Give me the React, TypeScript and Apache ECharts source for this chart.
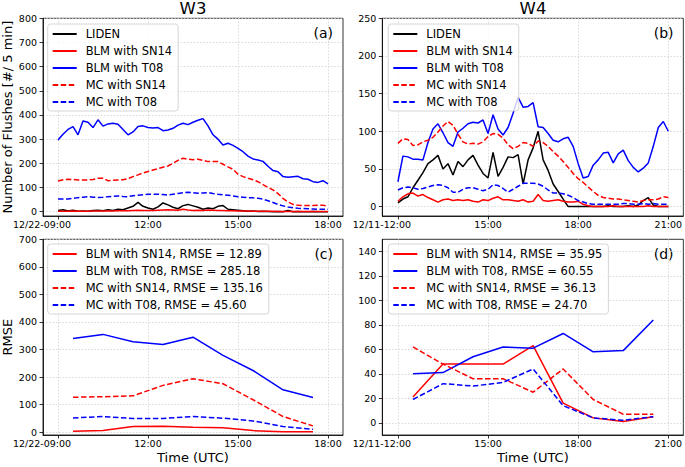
import React, { useEffect, useRef } from "react";
import * as echarts from "echarts";

const FONT = "DejaVu Sans";

// ---------- time sampling ----------
const W3_START = 9; // 12/22 09:00 (hours)
const W4_START = 12; // 12/11 12:00 (hours)
const STEP = 10 / 60; // 10-minute samples

// ---------- panel (a): W3 flash counts ----------
const w3Liden = [5,8,3,6,2,3,2,5,6,4,8,5,10,8,15,22,38,22,15,10,20,36,28,18,12,25,30,24,18,10,15,12,22,25,10,8,6,4,2,3,1,2,1,0,1,0,5,0,1,0,0,1,0,0,0];
const w3BlmSN14 = [2,2,2,3,2,2,2,3,3,3,3,3,4,4,4,5,6,5,5,5,6,7,8,7,6,10,7,5,6,5,7,6,5,5,4,4,3,3,3,2,2,2,2,2,1,1,1,1,1,1,1,1,1,1,1];
const w3BlmT08 = [296,320,340,352,318,375,370,348,380,354,363,366,362,340,318,330,352,355,348,346,348,335,338,345,358,366,360,370,378,385,355,318,300,276,283,274,262,248,230,218,214,208,188,170,165,145,142,144,146,136,134,124,121,128,115];
const w3McSN14 = [127,132,134,133,131,131,131,133,138,138,128,130,131,132,137,145,152,160,166,172,178,184,189,200,212,221,217,215,217,212,207,207,207,196,185,175,155,145,138,132,124,112,100,90,75,55,40,30,26,25,25,25,27,26,24];
const w3McT08 = [52,52,52,55,58,60,62,60,59,60,62,63,65,63,62,66,68,70,72,72,72,71,69,72,75,78,80,78,76,77,79,75,72,70,68,65,62,60,58,57,55,52,45,38,30,24,19,16,14,13,12,11,10,10,10];

// ---------- panel (b): W4 flash counts ----------
const w4Liden = [5,10,13,25,35,45,57,62,68,50,57,42,60,53,62,68,55,44,38,72,40,52,66,65,69,30,62,78,100,62,48,30,20,10,0,0,0,0,0,0,0,0,1,0,0,0,1,0,2,8,12,2,0,0,0];
const w4BlmSN14 = [7,13,17,18,14,16,12,9,6,9,10,8,9,8,9,7,6,9,8,11,13,9,9,8,7,9,6,7,16,8,7,8,9,7,6,6,7,3,1,0,0,0,0,1,0,0,0,0,0,0,1,0,0,0,0];
const w4BlmT08 = [33,67,66,63,63,62,85,103,110,98,85,80,99,104,110,112,111,115,97,122,103,95,105,124,145,132,133,138,106,105,97,88,86,90,92,80,57,38,40,55,62,71,72,58,70,75,61,52,46,51,58,80,105,113,100];
const w4McSN14 = [84,90,89,81,82,86,88,92,99,107,113,108,96,86,83,84,83,86,93,97,96,91,82,77,80,85,84,80,87,85,80,73,67,60,52,44,37,32,26,20,15,12,11,10,10,9,8,7,6,8,9,9,10,13,12];
const w4McT08 = [22,25,26,25,23,24,26,28,29,28,25,19,19,23,25,25,23,21,23,29,28,24,19,23,27,31,31,31,30,27,22,18,18,17,15,12,8,6,4,3,3,3,3,3,3,4,4,3,3,4,3,4,3,3,3];

// ---------- panels (c), (d): hourly RMSE ----------
const w3RmseHours = [9.5,10.5,11.5,12.5,13.5,14.5,15.5,16.5,17.5];
const w4RmseHours = [12.5,13.5,14.5,15.5,16.5,17.5,18.5,19.5,20.5];
const cBlmSN14 = [4,6,21,22,18,16,6,2,2];
const cBlmT08 = [340,355,328,318,345,279,224,154,126];
const cMcSN14 = [127,129,132,170,194,176,118,57,23];
const cMcT08 = [52,57,50,50,57,51,41,21,11];
const dBlmSN14 = [21,48,48,48,63,16,4,1,5];
const dBlmT08 = [40,41,54,62,61,73,58,59,84];
const dMcSN14 = [62,48,36,36,25,44,19,7,7];
const dMcT08 = [19,32,30,33,44,14,4,2,5];

const cNames = ["BLM with SN14, RMSE = 12.89","BLM with T08, RMSE = 285.18","MC with SN14, RMSE = 135.16","MC with T08, RMSE = 45.60"];
const dNames = ["BLM with SN14, RMSE = 35.95","BLM with T08, RMSE = 60.55","MC with SN14, RMSE = 36.13","MC with T08, RMSE = 24.70"];
const topNames = ["LIDEN","BLM with SN14","BLM with T08","MC with SN14","MC with T08"];

// ---------- ticks ----------
const w3XTicks = [9,12,15,18];
const w3XLabels = ["12/22-09:00","12:00","15:00","18:00"];
const w4XTicks = [12,15,18,21];
const w4XLabels = ["12/11-12:00","15:00","18:00","21:00"];
const aYTicks = [0,100,200,300,400,500,600,700,800];
const bYTicks = [0,50,100,150,200,250];
const cYTicks = [0,100,200,300,400,500,600,700];
const dYTicks = [0,20,40,60,80,100,120,140];

const regular = (start: number, vals: number[]) => vals.map((v, i) => [start + i * STEP, v]);
const paired = (xs: number[], vals: number[]) => vals.map((v, i) => [xs[i], v]);

const DASH = [5.5, 2.5];
const styleOf = (kind: string) => {
  switch (kind) {
    case "LIDEN": return { color: "#000000", type: "solid" };
    case "BLM_SN14": return { color: "#ff0000", type: "solid" };
    case "BLM_T08": return { color: "#0000ff", type: "solid" };
    case "MC_SN14": return { color: "#ff0000", type: DASH };
    default: return { color: "#0000ff", type: DASH };
  }
};

function line(name: string, kind: string, idx: number, data: number[][]) {
  const s = styleOf(kind);
  return {
    type: "line",
    name,
    xAxisIndex: idx,
    yAxisIndex: idx,
    data,
    symbol: "none",
    showSymbol: false,
    color: s.color,
    lineStyle: { color: s.color, width: 1.5, type: s.type as any },
    itemStyle: { color: s.color },
    silent: true,
  };
}

const tickLabelStyle = { fontSize: 9.5, color: "#000", fontFamily: FONT };
const gridLine = { show: true, lineStyle: { color: "#d3d3d3", type: [1.6, 1.6], width: 0.8 } };
const axisLineStyle = { show: true, onZero: false, lineStyle: { color: "#000", width: 0.8 } };

function xAxis(gridIndex: number, min: number, max: number, ticks: number[], labels: string[], extra: any = {}) {
  return {
    type: "value",
    gridIndex,
    min,
    max,
    axisLine: axisLineStyle,
    axisTick: { show: true, length: 3.5, customValues: ticks, lineStyle: { color: "#000", width: 0.8 } },
    axisLabel: {
      ...tickLabelStyle,
      customValues: ticks,
      margin: 3,
      formatter: (v: number) => {
        const i = ticks.indexOf(v);
        if (i < 0) return "";
        return i === 0 ? `{f|${labels[i]}}` : labels[i];
      },
      rich: { f: { ...tickLabelStyle, padding: [0, 32, 0, 0] } },
    },
    splitLine: gridLine,
    ...extra,
  };
}

function yAxis(gridIndex: number, min: number, max: number, ticks: number[], extra: any = {}) {
  return {
    type: "value",
    gridIndex,
    min,
    max,
    axisLine: axisLineStyle,
    axisTick: { show: true, length: 3.5, customValues: ticks, lineStyle: { color: "#000", width: 0.8 } },
    axisLabel: { ...tickLabelStyle, customValues: ticks, margin: 6 },
    splitLine: gridLine,
    ...extra,
  };
}

const legendBase = {
  orient: "vertical",
  itemWidth: 24,
  itemHeight: 10,
  itemGap: 5,
  padding: [4, 6, 3, 4],
  backgroundColor: "rgba(255,255,255,0.8)",
  borderColor: "#cccccc",
  borderWidth: 0.8,
  borderRadius: 3,
  selectedMode: false,
  itemStyle: { opacity: 0 },
  textStyle: { fontSize: 11.5, fontFamily: FONT, color: "#000", padding: [0, 0, 0, 4] },
};

const axisNameStyle = { fontSize: 13, fontFamily: FONT, color: "#000" };

function buildOption() {
  return {
    animation: false,
    backgroundColor: "#ffffff",
    textStyle: { fontFamily: FONT },
    grid: [
      { left: 42, top: 18.3, width: 301, height: 197.7, show: true, borderColor: "#000", borderWidth: 0.8, backgroundColor: "transparent" },
      { left: 382.3, top: 18.3, width: 301.2, height: 197.7, show: true, borderColor: "#000", borderWidth: 0.8, backgroundColor: "transparent" },
      { left: 42, top: 239.3, width: 301, height: 195.7, show: true, borderColor: "#000", borderWidth: 0.8, backgroundColor: "transparent" },
      { left: 382.3, top: 239.3, width: 301.2, height: 195.7, show: true, borderColor: "#000", borderWidth: 0.8, backgroundColor: "transparent" },
    ],
    xAxis: [
      xAxis(0, 8.5, 18.5, w3XTicks, w3XLabels),
      xAxis(1, 11.48, 21.5, w4XTicks, w4XLabels),
      xAxis(2, 8.5, 18.5, w3XTicks, w3XLabels, { name: "Time (UTC)", nameLocation: "middle", nameGap: 16, nameTextStyle: axisNameStyle }),
      xAxis(3, 11.48, 21.5, w4XTicks, w4XLabels, { name: "Time (UTC)", nameLocation: "middle", nameGap: 16, nameTextStyle: axisNameStyle }),
    ],
    yAxis: [
      yAxis(0, -18, 800, aYTicks, { name: "Number of Flushes [#/ 5 min]", nameLocation: "middle", nameGap: 29, nameTextStyle: axisNameStyle }),
      yAxis(1, -12.5, 250, bYTicks),
      yAxis(2, -10, 700, cYTicks, { name: "RMSE", nameLocation: "middle", nameGap: 29, nameTextStyle: axisNameStyle }),
      yAxis(3, -10, 150, dYTicks),
    ],
    legend: [
      { ...legendBase, left: 47.7, top: 24, data: topNames },
      { ...legendBase, left: 388.3, top: 24, data: topNames },
      { ...legendBase, left: 47.7, top: 244, data: cNames },
      { ...legendBase, left: 388.3, top: 244, data: dNames },
    ],
    graphic: [
      { type: "text", x: 193, y: 8, style: { text: "W3", fontSize: 16.5, fontFamily: FONT, fill: "#000", textAlign: "center", textVerticalAlign: "middle" } },
      { type: "text", x: 533, y: 8, style: { text: "W4", fontSize: 16.5, fontFamily: FONT, fill: "#000", textAlign: "center", textVerticalAlign: "middle" } },
      { type: "text", x: 333, y: 33.3, style: { text: "(a)", fontSize: 14, fontFamily: FONT, fill: "#000", textAlign: "right", textVerticalAlign: "middle" } },
      { type: "text", x: 673.5, y: 33.3, style: { text: "(b)", fontSize: 14, fontFamily: FONT, fill: "#000", textAlign: "right", textVerticalAlign: "middle" } },
      { type: "text", x: 333, y: 254.3, style: { text: "(c)", fontSize: 14, fontFamily: FONT, fill: "#000", textAlign: "right", textVerticalAlign: "middle" } },
      { type: "text", x: 673.5, y: 254.3, style: { text: "(d)", fontSize: 14, fontFamily: FONT, fill: "#000", textAlign: "right", textVerticalAlign: "middle" } },
    ],
    series: [
      line("LIDEN", "LIDEN", 0, regular(W3_START, w3Liden)),
      line("BLM with SN14", "BLM_SN14", 0, regular(W3_START, w3BlmSN14)),
      line("BLM with T08", "BLM_T08", 0, regular(W3_START, w3BlmT08)),
      line("MC with SN14", "MC_SN14", 0, regular(W3_START, w3McSN14)),
      line("MC with T08", "MC_T08", 0, regular(W3_START, w3McT08)),

      line("LIDEN", "LIDEN", 1, regular(W4_START, w4Liden)),
      line("BLM with SN14", "BLM_SN14", 1, regular(W4_START, w4BlmSN14)),
      line("BLM with T08", "BLM_T08", 1, regular(W4_START, w4BlmT08)),
      line("MC with SN14", "MC_SN14", 1, regular(W4_START, w4McSN14)),
      line("MC with T08", "MC_T08", 1, regular(W4_START, w4McT08)),

      line(cNames[0], "BLM_SN14", 2, paired(w3RmseHours, cBlmSN14)),
      line(cNames[1], "BLM_T08", 2, paired(w3RmseHours, cBlmT08)),
      line(cNames[2], "MC_SN14", 2, paired(w3RmseHours, cMcSN14)),
      line(cNames[3], "MC_T08", 2, paired(w3RmseHours, cMcT08)),

      line(dNames[0], "BLM_SN14", 3, paired(w4RmseHours, dBlmSN14)),
      line(dNames[1], "BLM_T08", 3, paired(w4RmseHours, dBlmT08)),
      line(dNames[2], "MC_SN14", 3, paired(w4RmseHours, dMcSN14)),
      line(dNames[3], "MC_T08", 3, paired(w4RmseHours, dMcT08)),
    ],
  };
}

export default function App() {
  const ref = useRef<HTMLDivElement>(null);
  useEffect(() => {
    document.body.style.margin = "0";
    if (!ref.current) return;
    const chart = echarts.init(ref.current, undefined, { renderer: "svg" });
    chart.setOption(buildOption() as any);
    return () => chart.dispose();
  }, []);
  return <div ref={ref} style={{ width: 685, height: 467 }} />;
}
